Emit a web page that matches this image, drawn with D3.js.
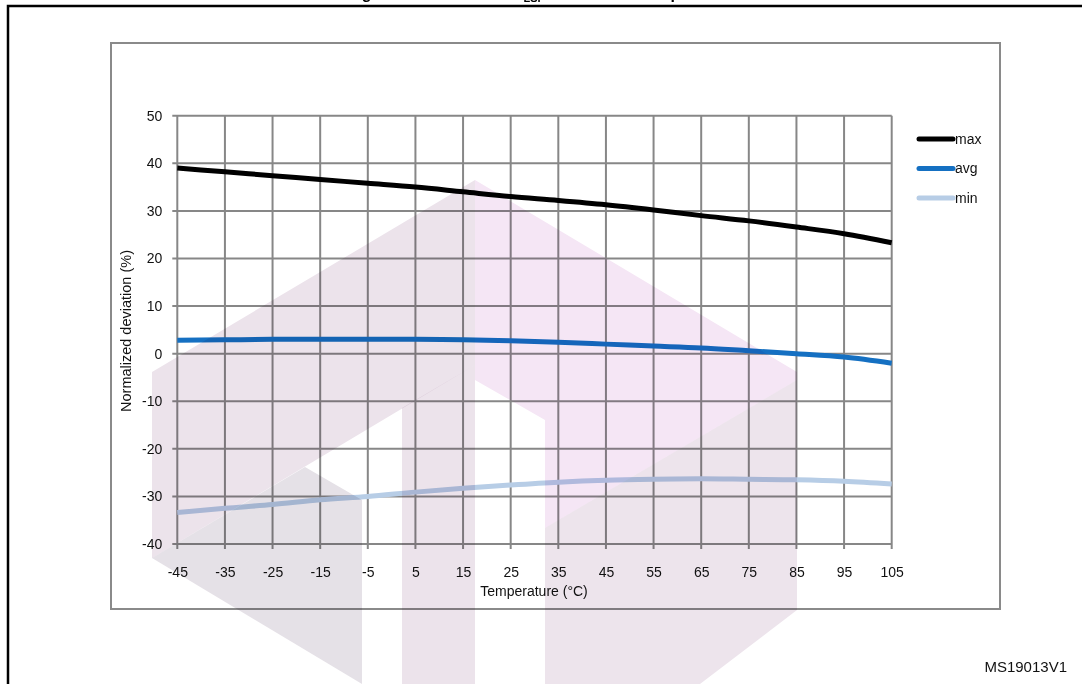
<!DOCTYPE html>
<html>
<head>
<meta charset="utf-8">
<script src="https://cdn.jsdelivr.net/npm/d3@7"></script>
<style>
  html, body { margin: 0; padding: 0; background: #fff; }
  svg { display: block; font-family: "Liberation Sans", Arial, sans-serif; }
</style>
</head>
<body>
<svg id="chart" width="1082" height="684"></svg>
<script>
// ---- data ----
const temps = [-45, -35, -25, -15, -5, 5, 15, 25, 35, 45, 55, 65, 75, 85, 95, 105];
const maxVals = [39.0, 38.2, 37.4, 36.6, 35.8, 35.0, 34.0, 33.0, 32.2, 31.3, 30.2, 29.0, 27.9, 26.6, 25.2, 23.3];
const avgVals = [2.8, 2.9, 3.0, 3.0, 3.0, 3.0, 2.9, 2.7, 2.4, 2.0, 1.6, 1.2, 0.6, 0.0, -0.7, -2.0];
const minVals = [-33.4, -32.5, -31.7, -30.7, -30.0, -29.1, -28.3, -27.6, -27.0, -26.6, -26.4, -26.3, -26.4, -26.5, -26.8, -27.4];
const seriesNames = ["max", "avg", "min"];
const seriesColors = ["#000000", "#1570c2", "#b7cde6"];
const yTicks = [50, 40, 30, 20, 10, 0, -10, -20, -30, -40];
const xTicks = temps;
const xTitle = "Temperature (°C)";
const yTitle = "Normalized deviation (%)";
const figId = "MS19013V1";

// ---- layout ----
const svg = d3.select("#chart");
const x = d3.scaleLinear().domain([-45, 105]).range([177.3, 891.7]);
const y = d3.scaleLinear().domain([-40, 50]).range([544, 115.7]);
const gridColor = "#878787";

// outer frame (black) and title remnant (cut off at the top edge, as in the source)
svg.append("path").attr("d", "M1082,6 H8 V684").attr("fill", "none")
  .attr("stroke", "#000").attr("stroke-width", 2.5);
svg.append("text").attr("x", 541).attr("y", -1).attr("text-anchor", "middle")
  .attr("font-weight", "bold").attr("font-size", 16)
  .html('Figure 16. Normalized f<tspan dy="3" font-size="11">LSI</tspan><tspan dy="-3"> deviation vs temperature</tspan>');

// chart frame
svg.append("rect").attr("x", 111).attr("y", 43).attr("width", 889).attr("height", 566)
  .attr("fill", "none").attr("stroke", "#8a8a8a").attr("stroke-width", 2);

// grid
const grid = svg.append("g");
grid.selectAll("line.v").data(xTicks).join("line")
  .attr("x1", d => x(d)).attr("x2", d => x(d))
  .attr("y1", y(50)).attr("y2", y(-40) + 5)
  .attr("stroke", gridColor).attr("stroke-width", 2);
grid.selectAll("line.h").data(yTicks).join("line")
  .attr("x1", x(-45) - 5).attr("x2", x(105))
  .attr("y1", d => y(d)).attr("y2", d => y(d))
  .attr("stroke", gridColor).attr("stroke-width", 2);

// axis labels via d3 axes (hyphen-minus as in source)
const fmt = d => String(d);
const yAxis = svg.append("g").attr("transform", `translate(${x(-45)},0)`)
  .call(d3.axisLeft(y).tickValues(yTicks).tickFormat(fmt).tickSize(5).tickPadding(10));
const xAxis = svg.append("g").attr("transform", `translate(0,${y(-40)})`)
  .call(d3.axisBottom(x).tickValues(xTicks).tickFormat(fmt).tickSize(5).tickPadding(18));
[yAxis, xAxis].forEach(g => {
  g.select(".domain").remove();
  g.selectAll(".tick line").remove();
  g.selectAll("text").attr("font-family", "Liberation Sans, Arial, sans-serif")
    .attr("font-size", 14).attr("fill", "#111");
});

// axis titles
svg.append("text").attr("x", 534).attr("y", 596).attr("text-anchor", "middle")
  .attr("font-size", 14).attr("fill", "#111").text(xTitle);
svg.append("text").attr("transform", "translate(131,331) rotate(-90)")
  .attr("text-anchor", "middle").attr("font-size", 14.5).attr("fill", "#111").text(yTitle);

// lines
const series = [maxVals, avgVals, minVals];
const line = d3.line().x((d, i) => x(temps[i])).y(d => y(d)).curve(d3.curveMonotoneX);
series.forEach((vals, k) => {
  svg.append("path").datum(vals).attr("d", line).attr("fill", "none")
    .attr("stroke", seriesColors[k]).attr("stroke-width", 5);
});

// legend
const lg = svg.append("g");
seriesNames.forEach((n, k) => {
  const ly = 139 + k * 29.5;
  lg.append("line").attr("x1", 919).attr("x2", 953).attr("y1", ly).attr("y2", ly)
    .attr("stroke", seriesColors[k]).attr("stroke-width", 5).attr("stroke-linecap", "round");
  lg.append("text").attr("x", 955).attr("y", ly).attr("dy", "0.35em")
    .attr("font-size", 14).attr("fill", "#111").text(n);
});

// figure id
svg.append("text").attr("x", 1067).attr("y", 672).attr("text-anchor", "end")
  .attr("font-size", 15).attr("fill", "#111").text(figId);

// watermark (semi-transparent overlay)
const wm = svg.append("g").style("mix-blend-mode", "multiply");
const polys = [
  { c: "#ece3eb", p: [[152,372],[475,180],[475,365],[152,558]] },
  { c: "#e5e1e7", p: [[152,558],[305,467],[362,500],[362,684]] },
  { c: "#ece3eb", p: [[402,408],[475,365],[475,684],[402,684]] },
  { c: "#f5e6f5", p: [[475,180],[797,372],[797,380],[545,528],[545,420],[475,380]] },
  { c: "#ede4ec", p: [[545,528],[797,380],[797,610],[700,684],[545,684]] }
];
polys.forEach(o => {
  wm.append("polygon").attr("points", o.p.map(q => q.join(",")).join(" "))
    .attr("fill", o.c).style("mix-blend-mode", "multiply");
});
</script>
</body>
</html>
